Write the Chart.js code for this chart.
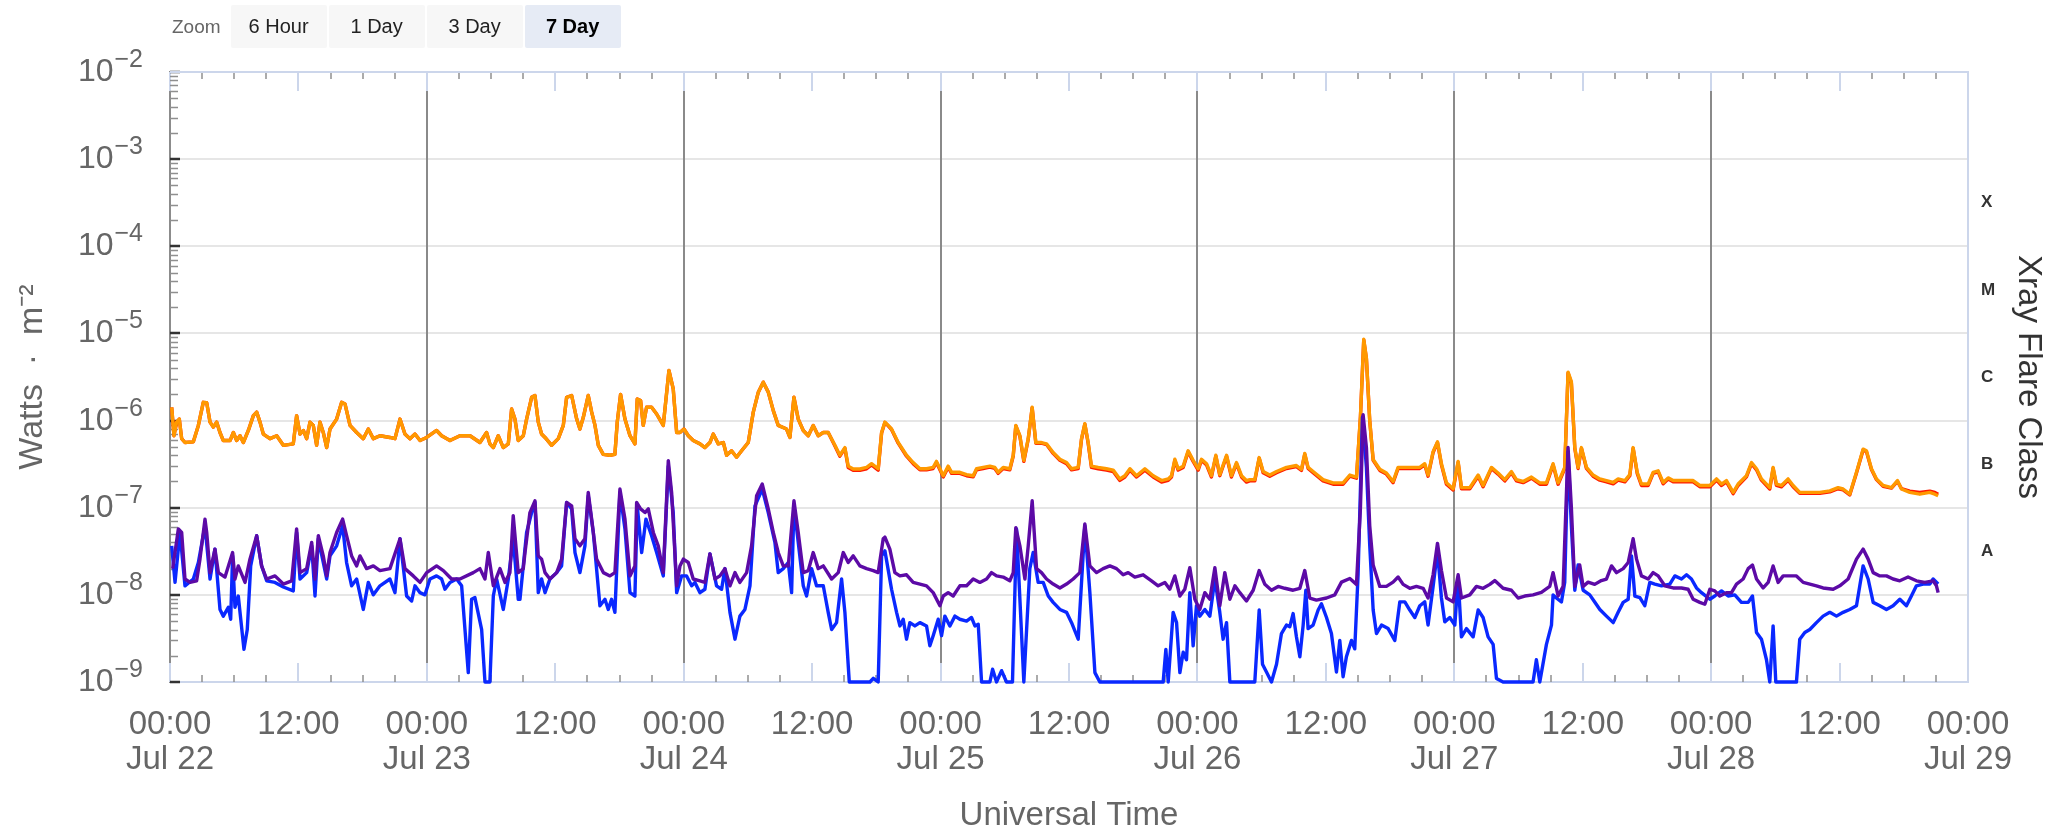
<!DOCTYPE html>
<html>
<head>
<meta charset="utf-8">
<title>GOES X-ray Flux</title>
<script src="https://cdn.jsdelivr.net/npm/chart.js@4.4.1/dist/chart.umd.min.js"></script>
<style>
  body { margin: 0; background: #fff; font-family: "Liberation Sans", Arial, sans-serif; }
  #wrap { position: relative; width: 2058px; height: 830px; }
  #chartXray { position: absolute; left: 0; top: 0; }
  .zoom-bar { position: absolute; left: 172px; top: 5px; height: 43px; display: flex; align-items: center; }
  .zoom-bar .lbl { color: #666; font-size: 19px; margin-right: 10px; }
  .zoom-bar .btn { width: 96px; height: 43px; margin-right: 2px; background: #f7f7f7; color: #222;
    font-size: 20px; display: flex; align-items: center; justify-content: center; border-radius: 2px; }
  .zoom-bar .btn.on { background: #e6ebf5; font-weight: bold; color: #000; }
</style>
</head>
<body>
<div id="wrap">
  <canvas id="chartXray" width="2058" height="830"></canvas>
  <div class="zoom-bar">
    <span class="lbl">Zoom</span>
    <div class="btn">6 Hour</div>
    <div class="btn">1 Day</div>
    <div class="btn">3 Day</div>
    <div class="btn on">7 Day</div>
  </div>
</div>
<script>
// hours since Jul 22 00:00 UTC, flux in W/m2

const dayLabels = ['Jul 22', 'Jul 23', 'Jul 24', 'Jul 25', 'Jul 26', 'Jul 27', 'Jul 28', 'Jul 29'];
const yTickValues = [1e-9, 1e-8, 1e-7, 1e-6, 1e-5, 1e-4, 1e-3, 1e-2];
const yTickExponents = ['−9', '−8', '−7', '−6', '−5', '−4', '−3', '−2'];
const flareClasses = ['X', 'M', 'C', 'B', 'A'];
const flareClassFloor = [1e-4, 1e-5, 1e-6, 1e-7, 1e-8];

// long channel, both satellites sampled at the same times
const longHours = [
  0.16, 0.37, 0.62, 0.87, 1.09, 1.40, 2.18, 2.65, 3.11, 3.43, 3.74, 4.05, 4.36, 4.67, 4.98, 5.61, 5.92, 6.23, 6.54, 6.85,
  7.32, 7.79, 8.10, 8.41, 8.72, 9.34, 9.97, 10.59, 11.52, 11.83, 12.15, 12.46, 12.77, 13.08, 13.39, 13.70, 14.01, 14.32, 14.64, 14.95,
  15.57, 16.04, 16.35, 16.82, 17.44, 18.06, 18.53, 19.00, 19.62, 20.55, 21.02, 21.49, 21.95, 22.42, 22.89, 23.36, 23.98, 24.91, 25.38, 26.16,
  27.09, 28.03, 28.96, 29.58, 29.89, 30.21, 30.67, 31.14, 31.61, 31.92, 32.23, 32.54, 33.01, 33.32, 33.79, 34.10, 34.41, 34.72, 35.04, 35.66,
  36.28, 36.75, 37.06, 37.53, 38.00, 38.30, 38.62, 39.08, 39.40, 39.71, 40.02, 40.48, 41.11, 41.57, 41.79, 42.10, 42.51, 42.98, 43.44, 43.66,
  43.97, 44.22, 44.53, 45.00, 45.47, 46.09, 46.62, 47.02, 47.34, 47.65, 48.02, 48.43, 48.89, 49.52, 49.98, 50.45, 50.76, 51.23, 51.70, 52.01,
  52.47, 52.94, 53.41, 54.03, 54.50, 54.97, 55.43, 55.90, 56.37, 56.83, 57.61, 57.92, 58.30, 58.70, 59.17, 59.64, 60.10, 60.57, 61.04, 61.50,
  62.13, 62.59, 63.06, 63.37, 63.84, 64.46, 65.09, 65.55, 66.17, 66.49, 66.80, 67.11, 67.42, 68.04, 68.82, 69.44, 70.07, 70.69, 71.31, 71.62,
  71.94, 72.25, 72.71, 73.03, 73.80, 74.43, 75.05, 75.36, 75.98, 76.61, 77.07, 77.38, 77.85, 78.47, 78.79, 79.03, 79.41, 79.78, 80.19, 80.56,
  80.90, 81.43, 81.90, 82.52, 83.15, 83.77, 84.24, 84.86, 85.17, 85.48, 85.79, 86.10, 86.73, 87.50, 88.13, 88.75, 89.22, 89.69, 90.31, 91.09,
  91.87, 92.65, 93.27, 93.58, 93.89, 94.20, 94.67, 95.13, 95.60, 96.07, 96.38, 96.85, 97.31, 97.72, 98.09, 98.72, 99.18, 99.65, 100.12, 100.58,
  100.89, 101.36, 101.77, 102.14, 102.76, 103.39, 104.32, 105.25, 105.72, 106.03, 106.34, 106.81, 107.74, 108.68, 109.61, 110.24, 110.86, 111.23, 111.54, 111.79,
  112.10, 112.42, 113.04, 113.66, 114.28, 114.75, 115.53, 116.15, 116.77, 117.24, 117.55, 118.02, 118.43, 118.80, 119.27, 119.89, 120.36, 120.67, 121.45, 122.23,
  122.69, 123.47, 124.09, 124.72, 125.34, 125.81, 126.43, 127.21, 127.99, 128.61, 129.23, 129.70, 130.32, 130.63, 130.94, 131.26, 131.57, 131.88, 132.35, 132.97,
  133.60, 134.22, 134.85, 135.31, 135.94, 136.40, 136.71, 137.09, 137.49, 138.12, 138.58, 139.05, 139.52, 139.98, 140.45, 141.39, 142.32, 142.94, 143.88, 144.50,
  144.97, 145.43, 146.06, 146.52, 147.30, 147.77, 148.24, 148.70, 149.48, 149.79, 150.10, 150.57, 151.19, 151.66, 152.28, 153.22, 154.15, 155.09, 155.86, 156.33,
  156.95, 157.58, 158.20, 158.51, 158.98, 159.45, 160.07, 160.85, 161.41, 161.78, 162.56, 163.49, 164.43, 164.90, 165.21
];

// long channel, secondary satellite (orange, drawn on top)
const longSecFlux = [
  1.42e-6, 6.7e-7, 9.6e-7, 1.04e-6, 6.2e-7, 5.6e-7, 5.7e-7, 8.8e-7, 1.62e-6, 1.6e-6, 9.6e-7, 8.4e-7, 9.6e-7, 7.3e-7, 5.9e-7, 5.9e-7, 7.3e-7, 5.9e-7, 6.7e-7, 5.6e-7,
  7.7e-7, 1.14e-6, 1.25e-6, 9.6e-7, 7.0e-7, 6.2e-7, 6.7e-7, 5.2e-7, 5.4e-7, 1.14e-6, 7.0e-7, 7.7e-7, 6.2e-7, 9.6e-7, 8.8e-7, 5.2e-7, 9.6e-7, 7.3e-7, 4.9e-7, 8.0e-7,
  1.04e-6, 1.62e-6, 1.55e-6, 8.8e-7, 7.3e-7, 6.2e-7, 8.0e-7, 6.2e-7, 6.7e-7, 6.4e-7, 6.2e-7, 1.04e-6, 7.0e-7, 6.2e-7, 7.0e-7, 5.9e-7, 6.4e-7, 7.7e-7, 6.7e-7, 5.9e-7,
  6.7e-7, 6.7e-7, 5.6e-7, 7.3e-7, 5.4e-7, 4.9e-7, 6.7e-7, 4.9e-7, 5.4e-7, 1.36e-6, 1.04e-6, 5.9e-7, 6.7e-7, 1.04e-6, 1.85e-6, 1.94e-6, 9.6e-7, 7.0e-7, 6.4e-7, 5.2e-7,
  6.2e-7, 8.8e-7, 1.85e-6, 1.94e-6, 1.04e-6, 8.0e-7, 1.09e-6, 1.94e-6, 1.25e-6, 8.8e-7, 5.2e-7, 4.1e-7, 4.0e-7, 4.1e-7, 9.6e-7, 2.0e-6, 1.04e-6, 6.7e-7, 5.4e-7, 1.77e-6,
  1.7e-6, 8.8e-7, 1.42e-6, 1.42e-6, 1.19e-6, 8.8e-7, 3.76e-6, 2.31e-6, 7.3e-7, 7.3e-7, 8.0e-7, 6.7e-7, 5.9e-7, 5.4e-7, 4.9e-7, 5.6e-7, 7.0e-7, 5.4e-7, 5.6e-7, 4.0e-7,
  4.5e-7, 3.8e-7, 4.5e-7, 5.6e-7, 1.25e-6, 2.12e-6, 2.76e-6, 2.12e-6, 1.3e-6, 8.8e-7, 8.0e-7, 6.4e-7, 1.85e-6, 1.04e-6, 7.7e-7, 6.7e-7, 8.8e-7, 6.7e-7, 7.3e-7, 7.3e-7,
  5.2e-7, 4.0e-7, 4.9e-7, 3.0e-7, 2.78e-7, 2.78e-7, 2.9e-7, 3.2e-7, 2.8e-7, 7.3e-7, 9.6e-7, 8.8e-7, 8.0e-7, 5.6e-7, 4.0e-7, 3.3e-7, 2.8e-7, 2.8e-7, 2.9e-7, 3.4e-7,
  2.8e-7, 2.33e-7, 3.0e-7, 2.55e-7, 2.55e-7, 2.4e-7, 2.33e-7, 2.8e-7, 2.9e-7, 3.0e-7, 2.9e-7, 2.55e-7, 2.9e-7, 2.8e-7, 4.0e-7, 8.8e-7, 6.7e-7, 3.5e-7, 6.2e-7, 1.42e-6,
  5.6e-7, 5.6e-7, 5.4e-7, 4.3e-7, 3.6e-7, 3.3e-7, 2.8e-7, 2.9e-7, 6.2e-7, 9.2e-7, 5.6e-7, 3.0e-7, 2.9e-7, 2.8e-7, 2.7e-7, 2.14e-7, 2.33e-7, 2.8e-7, 2.33e-7, 2.8e-7,
  2.33e-7, 2.05e-7, 2.14e-7, 2.33e-7, 3.6e-7, 2.8e-7, 3.0e-7, 4.5e-7, 3.5e-7, 2.8e-7, 3.6e-7, 3.2e-7, 2.33e-7, 4.0e-7, 2.4e-7, 4.0e-7, 2.33e-7, 3.3e-7, 2.33e-7, 2.05e-7,
  2.1e-7, 2.1e-7, 3.76e-7, 2.6e-7, 2.37e-7, 2.6e-7, 2.9e-7, 3.05e-7, 2.76e-7, 4.2e-7, 2.9e-7, 2.6e-7, 2.1e-7, 1.93e-7, 1.93e-7, 2.37e-7, 2.25e-7, 1.1e-6, 8.56e-6, 5.2e-6,
  1.0e-6, 3.57e-7, 2.76e-7, 2.5e-7, 2.0e-7, 2.9e-7, 2.9e-7, 2.9e-7, 2.9e-7, 3.2e-7, 2.37e-7, 4.4e-7, 5.7e-7, 3.2e-7, 1.93e-7, 1.65e-7, 3.4e-7, 1.7e-7, 1.7e-7, 2.37e-7,
  1.8e-7, 2.9e-7, 2.5e-7, 2.1e-7, 2.6e-7, 2.1e-7, 2.0e-7, 2.25e-7, 1.93e-7, 1.93e-7, 3.2e-7, 1.93e-7, 2.9e-7, 3.6e-6, 2.8e-6, 4.9e-7, 2.9e-7, 4.9e-7, 2.9e-7, 2.37e-7,
  2.14e-7, 2.05e-7, 1.95e-7, 2.14e-7, 2.05e-7, 2.4e-7, 4.9e-7, 2.55e-7, 1.87e-7, 1.87e-7, 2.55e-7, 2.65e-7, 1.95e-7, 2.2e-7, 2.05e-7, 2.05e-7, 2.05e-7, 1.8e-7, 1.8e-7, 2.14e-7,
  1.87e-7, 2.05e-7, 1.5e-7, 1.87e-7, 2.33e-7, 3.3e-7, 2.8e-7, 2.14e-7, 1.7e-7, 2.9e-7, 1.87e-7, 1.8e-7, 2.14e-7, 1.8e-7, 1.5e-7, 1.5e-7, 1.5e-7, 1.56e-7, 1.7e-7, 1.64e-7,
  1.43e-7, 2.55e-7, 4.7e-7, 4.5e-7, 2.8e-7, 2.14e-7, 1.8e-7, 1.7e-7, 2.05e-7, 1.64e-7, 1.5e-7, 1.43e-7, 1.5e-7, 1.43e-7, 1.37e-7
];

// long channel, primary satellite (red, mostly hidden under orange)
const longPriFlux = [
  1.42e-6, 6.7e-7, 9.6e-7, 1.04e-6, 6.2e-7, 5.6e-7, 5.7e-7, 8.8e-7, 1.62e-6, 1.6e-6, 9.6e-7, 8.4e-7, 9.6e-7, 7.3e-7, 5.9e-7, 5.9e-7, 7.3e-7, 5.9e-7, 6.7e-7, 5.6e-7,
  7.7e-7, 1.14e-6, 1.25e-6, 9.6e-7, 7.0e-7, 6.2e-7, 6.7e-7, 5.2e-7, 5.4e-7, 1.14e-6, 7.0e-7, 7.7e-7, 6.2e-7, 9.6e-7, 8.8e-7, 5.2e-7, 9.6e-7, 7.3e-7, 4.9e-7, 8.0e-7,
  1.04e-6, 1.62e-6, 1.55e-6, 8.8e-7, 7.3e-7, 6.2e-7, 8.0e-7, 6.2e-7, 6.7e-7, 6.4e-7, 6.2e-7, 1.04e-6, 7.0e-7, 6.2e-7, 7.0e-7, 5.9e-7, 6.4e-7, 7.7e-7, 6.7e-7, 5.9e-7,
  6.7e-7, 6.7e-7, 5.6e-7, 7.3e-7, 5.4e-7, 4.9e-7, 6.7e-7, 4.9e-7, 5.4e-7, 1.36e-6, 1.04e-6, 5.9e-7, 6.7e-7, 1.04e-6, 1.85e-6, 1.94e-6, 9.6e-7, 7.0e-7, 6.4e-7, 5.2e-7,
  6.2e-7, 8.8e-7, 1.85e-6, 1.94e-6, 1.04e-6, 8.0e-7, 1.09e-6, 1.94e-6, 1.25e-6, 8.8e-7, 5.2e-7, 4.1e-7, 4.0e-7, 4.1e-7, 9.6e-7, 2.0e-6, 1.04e-6, 6.7e-7, 5.4e-7, 1.77e-6,
  1.7e-6, 8.8e-7, 1.42e-6, 1.42e-6, 1.19e-6, 8.8e-7, 3.76e-6, 2.31e-6, 7.3e-7, 7.3e-7, 8.0e-7, 6.7e-7, 5.9e-7, 5.4e-7, 4.9e-7, 5.6e-7, 7.0e-7, 5.4e-7, 5.6e-7, 4.0e-7,
  4.5e-7, 3.8e-7, 4.5e-7, 5.6e-7, 1.25e-6, 2.12e-6, 2.76e-6, 2.12e-6, 1.3e-6, 8.8e-7, 8.0e-7, 6.4e-7, 1.85e-6, 1.04e-6, 7.7e-7, 6.7e-7, 8.8e-7, 6.7e-7, 7.3e-7, 7.3e-7,
  5.1e-7, 3.9e-7, 4.8e-7, 2.9e-7, 2.68e-7, 2.68e-7, 2.8e-7, 3.1e-7, 2.7e-7, 7.2e-7, 9.5e-7, 8.7e-7, 7.9e-7, 5.5e-7, 3.9e-7, 3.2e-7, 2.72e-7, 2.72e-7, 2.82e-7, 3.3e-7,
  2.72e-7, 2.26e-7, 2.92e-7, 2.48e-7, 2.48e-7, 2.33e-7, 2.26e-7, 2.72e-7, 2.82e-7, 2.92e-7, 2.82e-7, 2.48e-7, 2.82e-7, 2.72e-7, 3.9e-7, 8.7e-7, 6.6e-7, 3.4e-7, 6.1e-7, 1.4e-6,
  5.5e-7, 5.5e-7, 5.3e-7, 4.2e-7, 3.5e-7, 3.2e-7, 2.72e-7, 2.82e-7, 6.1e-7, 9.1e-7, 5.5e-7, 2.9e-7, 2.8e-7, 2.7e-7, 2.6e-7, 2.06e-7, 2.25e-7, 2.7e-7, 2.25e-7, 2.7e-7,
  2.25e-7, 1.97e-7, 2.06e-7, 2.25e-7, 3.5e-7, 2.7e-7, 2.9e-7, 4.4e-7, 3.4e-7, 2.7e-7, 3.5e-7, 3.1e-7, 2.25e-7, 3.9e-7, 2.33e-7, 3.9e-7, 2.25e-7, 3.2e-7, 2.25e-7, 1.97e-7,
  2.03e-7, 2.03e-7, 3.7e-7, 2.52e-7, 2.3e-7, 2.52e-7, 2.82e-7, 2.96e-7, 2.68e-7, 4.1e-7, 2.82e-7, 2.52e-7, 2.03e-7, 1.86e-7, 1.86e-7, 2.3e-7, 2.18e-7, 1.08e-6, 8.4e-6, 5.1e-6,
  9.9e-7, 3.5e-7, 2.68e-7, 2.43e-7, 1.94e-7, 2.82e-7, 2.82e-7, 2.82e-7, 2.82e-7, 3.1e-7, 2.3e-7, 4.3e-7, 5.6e-7, 3.1e-7, 1.86e-7, 1.6e-7, 3.3e-7, 1.65e-7, 1.65e-7, 2.3e-7,
  1.74e-7, 2.82e-7, 2.43e-7, 2.03e-7, 2.52e-7, 2.03e-7, 1.94e-7, 2.18e-7, 1.86e-7, 1.86e-7, 3.1e-7, 1.86e-7, 2.82e-7, 3.5e-6, 2.7e-6, 4.8e-7, 2.82e-7, 4.8e-7, 2.82e-7, 2.3e-7,
  2.07e-7, 1.98e-7, 1.88e-7, 2.07e-7, 1.98e-7, 2.33e-7, 4.8e-7, 2.48e-7, 1.8e-7, 1.8e-7, 2.48e-7, 2.58e-7, 1.88e-7, 2.13e-7, 1.98e-7, 1.98e-7, 1.98e-7, 1.74e-7, 1.74e-7, 2.07e-7,
  1.8e-7, 1.98e-7, 1.45e-7, 1.8e-7, 2.26e-7, 3.2e-7, 2.72e-7, 2.07e-7, 1.64e-7, 2.82e-7, 1.8e-7, 1.74e-7, 2.07e-7, 1.74e-7, 1.46e-7, 1.46e-7, 1.46e-7, 1.52e-7, 1.65e-7, 1.6e-7,
  1.4e-7, 2.5e-7, 4.6e-7, 4.4e-7, 2.75e-7, 2.1e-7, 1.76e-7, 1.68e-7, 2.0e-7, 1.66e-7, 1.55e-7, 1.5e-7, 1.55e-7, 1.5e-7, 1.43e-7
];

// short channel, secondary satellite (purple)
const shortSecHours = [
  0.25, 0.78, 1.09, 1.40, 1.87, 2.49, 2.80, 3.27, 3.43, 3.74, 4.20, 4.52, 5.14, 5.85, 6.07, 6.38, 7.01, 7.47, 8.10, 8.56,
  9.03, 9.81, 10.59, 11.37, 11.83, 12.15, 12.77, 13.24, 13.55, 13.86, 14.32, 14.64, 14.95, 15.57, 16.13, 16.50, 16.97, 17.44, 17.75, 18.37,
  19.00, 19.62, 20.55, 21.49, 21.95, 22.73, 23.36, 23.98, 24.91, 25.54, 26.31, 27.09, 28.34, 28.96, 29.43, 29.74, 30.21, 30.83, 31.30, 31.76,
  32.07, 32.54, 33.01, 33.17, 33.63, 34.10, 34.41, 34.72, 35.04, 35.50, 36.13, 36.59, 37.06, 37.53, 37.84, 38.30, 38.77, 39.08, 39.40, 39.86,
  40.49, 41.11, 41.57, 42.04, 42.51, 42.98, 43.44, 43.60, 43.97, 44.38, 44.69, 45.16, 45.62, 46.09, 46.56, 46.87, 47.34, 47.65, 47.96, 48.43,
  48.89, 49.52, 49.98, 50.45, 50.92, 51.38, 51.85, 52.32, 52.79, 53.25, 53.88, 54.34, 54.81, 55.34, 55.90, 56.37, 56.83, 57.30, 57.77, 58.30,
  58.70, 59.17, 59.64, 60.10, 60.57, 61.04, 61.82, 62.44, 62.91, 63.37, 63.84, 64.46, 65.09, 65.71, 66.17, 66.64, 66.80, 67.26, 67.73, 68.20,
  68.82, 69.44, 70.07, 70.69, 71.31, 71.94, 72.25, 72.71, 73.18, 73.80, 74.43, 75.05, 75.67, 76.30, 76.76, 77.23, 77.85, 78.47, 78.79, 79.03,
  79.41, 79.88, 80.19, 80.56, 80.97, 81.43, 81.90, 82.52, 83.15, 83.77, 84.39, 85.01, 85.48, 85.95, 86.57, 87.19, 87.82, 88.44, 89.06, 89.53,
  90.15, 90.93, 91.71, 92.33, 92.96, 93.42, 93.89, 94.36, 94.82, 95.29, 95.76, 96.22, 96.69, 97.16, 97.63, 98.09, 98.56, 99.03, 99.50, 99.96,
  100.58, 101.21, 101.77, 102.30, 102.92, 103.54, 104.16, 104.94, 105.57, 106.03, 106.50, 107.12, 108.06, 108.83, 109.46, 110.24, 110.86, 111.23, 111.48, 111.79,
  112.10, 112.42, 113.04, 113.66, 114.28, 114.75, 115.22, 115.84, 116.46, 117.09, 117.55, 118.02, 118.43, 118.80, 119.27, 119.89, 120.36, 120.67, 121.45, 122.07,
  122.69, 123.32, 123.78, 124.56, 125.34, 125.96, 126.59, 127.36, 128.14, 128.92, 129.23, 129.70, 130.17, 130.63, 130.94, 131.26, 131.72, 132.04, 132.50, 133.12,
  133.74, 134.22, 134.69, 135.16, 135.78, 136.25, 136.71, 137.03, 137.49, 138.12, 138.58, 139.05, 139.67, 140.45, 141.23, 141.85, 142.32, 142.94, 143.41, 143.88,
  144.34, 144.81, 145.43, 145.90, 146.37, 146.99, 147.46, 147.86, 148.24, 148.86, 149.33, 149.79, 150.26, 150.73, 151.35, 151.97, 152.60, 153.22, 153.84, 154.46,
  155.40, 156.02, 156.80, 157.58, 158.20, 158.67, 159.14, 159.76, 160.38, 161.00, 161.63, 162.40, 163.18, 163.96, 164.74, 165.05, 165.21
];
const shortSecFlux = [
  2.0e-8, 5.7e-8, 5.2e-8, 1.52e-8, 1.39e-8, 1.45e-8, 2.57e-8, 7.4e-8, 5.2e-8, 1.8e-8, 3.35e-8, 1.8e-8, 1.6e-8, 3.06e-8, 1.52e-8, 2.15e-8, 1.39e-8, 2.57e-8, 4.77e-8, 2.15e-8,
  1.52e-8, 1.65e-8, 1.33e-8, 1.45e-8, 5.7e-8, 1.8e-8, 2.0e-8, 4.0e-8, 1.52e-8, 4.77e-8, 2.8e-8, 1.65e-8, 3.06e-8, 5.2e-8, 7.4e-8, 4.77e-8, 2.8e-8, 2.15e-8, 2.8e-8, 2.0e-8,
  2.15e-8, 1.9e-8, 2.0e-8, 4.4e-8, 2.0e-8, 1.65e-8, 1.39e-8, 1.8e-8, 2.15e-8, 1.9e-8, 1.52e-8, 1.52e-8, 1.8e-8, 2.0e-8, 1.52e-8, 3.06e-8, 1.27e-8, 2.0e-8, 1.39e-8, 1.8e-8,
  8.1e-8, 1.8e-8, 2.0e-8, 3.06e-8, 8.8e-8, 1.2e-7, 2.8e-8, 2.57e-8, 1.8e-8, 1.52e-8, 1.8e-8, 2.57e-8, 1.15e-7, 1.05e-7, 4.4e-8, 3.65e-8, 4.4e-8, 1.5e-7, 7.4e-8, 2.57e-8,
  1.8e-8, 1.65e-8, 1.8e-8, 1.64e-7, 7.4e-8, 1.65e-8, 2.15e-8, 1.15e-7, 9.7e-8, 8.8e-8, 9.7e-8, 5.2e-8, 3.65e-8, 1.8e-8, 3.47e-7, 1.5e-7, 1.27e-8, 2.15e-8, 2.57e-8, 2.35e-8,
  1.52e-8, 1.45e-8, 1.39e-8, 2.95e-8, 1.52e-8, 1.65e-8, 2.0e-8, 1.27e-8, 1.8e-8, 1.39e-8, 1.8e-8, 3.65e-8, 1.37e-7, 1.87e-7, 9.7e-8, 5.2e-8, 3.06e-8, 2.15e-8, 2.15e-8, 1.2e-7,
  5.2e-8, 1.8e-8, 1.9e-8, 3.06e-8, 2.0e-8, 2.15e-8, 1.52e-8, 1.8e-8, 3.06e-8, 2.35e-8, 2.8e-8, 2.15e-8, 2.0e-8, 1.9e-8, 1.8e-8, 4.4e-8, 4.6e-8, 3.35e-8, 1.8e-8, 1.65e-8,
  1.7e-8, 1.39e-8, 1.33e-8, 1.27e-8, 1.06e-8, 7.5e-9, 9.7e-9, 1.06e-8, 9.7e-9, 1.27e-8, 1.27e-8, 1.52e-8, 1.39e-8, 1.52e-8, 1.8e-8, 1.65e-8, 1.6e-8, 1.45e-8, 1.8e-8, 5.9e-8,
  3.65e-8, 1.52e-8, 3.65e-8, 1.2e-7, 2.0e-8, 1.8e-8, 1.52e-8, 1.33e-8, 1.2e-8, 1.33e-8, 1.52e-8, 1.8e-8, 6.5e-8, 2.15e-8, 1.8e-8, 2.0e-8, 2.15e-8, 2.0e-8, 1.7e-8, 1.8e-8,
  1.6e-8, 1.7e-8, 1.45e-8, 1.27e-8, 1.39e-8, 1.16e-8, 1.65e-8, 9.7e-9, 1.16e-8, 2.05e-8, 8.9e-9, 6.8e-9, 1.06e-8, 8.9e-9, 2.05e-8, 7.5e-9, 1.8e-8, 8.9e-9, 1.27e-8, 1.06e-8,
  8.5e-9, 1.13e-8, 1.9e-8, 1.32e-8, 1.13e-8, 1.25e-8, 1.19e-8, 1.13e-8, 1.19e-8, 1.9e-8, 9.2e-9, 8.7e-9, 9.2e-9, 1.0e-8, 1.4e-8, 1.54e-8, 1.32e-8, 9.9e-8, 1.17e-6, 4.9e-7,
  6.2e-8, 2.2e-8, 1.25e-8, 1.25e-8, 1.4e-8, 1.6e-8, 1.32e-8, 1.19e-8, 1.25e-8, 1.19e-8, 9.2e-9, 1.7e-8, 3.9e-8, 1.9e-8, 9.2e-9, 8.3e-9, 1.7e-8, 9.2e-9, 1.0e-8, 1.25e-8,
  1.19e-8, 1.32e-8, 1.46e-8, 1.19e-8, 1.13e-8, 9.2e-9, 9.7e-9, 1.0e-8, 1.07e-8, 1.25e-8, 1.8e-8, 9.7e-9, 1.25e-8, 4.9e-7, 1.0e-7, 1.25e-8, 2.2e-8, 1.25e-8, 1.4e-8, 1.32e-8,
  1.46e-8, 1.52e-8, 2.15e-8, 1.8e-8, 2.0e-8, 2.35e-8, 4.4e-8, 2.57e-8, 1.65e-8, 1.52e-8, 1.8e-8, 1.65e-8, 1.27e-8, 1.2e-8, 1.2e-8, 1.16e-8, 8.9e-9, 8.2e-9, 7.8e-9, 1.16e-8,
  1.11e-8, 9.7e-9, 1.06e-8, 1.06e-8, 1.33e-8, 1.52e-8, 2.0e-8, 2.2e-8, 1.52e-8, 1.2e-8, 1.39e-8, 2.15e-8, 1.39e-8, 1.65e-8, 1.65e-8, 1.65e-8, 1.39e-8, 1.33e-8, 1.27e-8, 1.2e-8,
  1.16e-8, 1.27e-8, 1.52e-8, 2.57e-8, 3.35e-8, 2.57e-8, 1.8e-8, 1.65e-8, 1.65e-8, 1.52e-8, 1.45e-8, 1.6e-8, 1.45e-8, 1.39e-8, 1.45e-8, 1.27e-8, 1.06e-8
];

// short channel, primary satellite (blue)
const shortPriHours = [
  0.16, 0.47, 0.93, 1.40, 2.18, 2.65, 3.27, 3.74, 4.20, 4.67, 4.98, 5.45, 5.67, 5.85, 6.07, 6.38, 6.91, 7.22, 7.54, 8.10,
  8.56, 9.03, 9.81, 10.59, 11.52, 11.83, 12.15, 12.77, 13.24, 13.55, 13.86, 14.32, 14.64, 14.95, 15.57, 16.13, 16.50, 16.97, 17.44, 18.06,
  18.53, 19.00, 19.62, 20.55, 21.02, 21.49, 22.11, 22.58, 22.89, 23.36, 23.82, 24.29, 24.91, 25.38, 25.69, 26.16, 26.78, 27.25, 27.87, 28.18,
  28.49, 29.12, 29.43, 29.89, 30.21, 30.52, 31.14, 31.61, 32.07, 32.54, 32.70, 33.32, 33.79, 34.10, 34.41, 34.72, 35.04, 35.50, 36.13, 36.59,
  37.06, 37.53, 37.84, 38.30, 38.77, 39.08, 39.55, 40.17, 40.64, 40.95, 41.26, 41.57, 42.04, 42.51, 42.98, 43.44, 43.66, 44.07, 44.47, 45.00,
  45.47, 46.09, 46.56, 47.02, 47.34, 47.80, 48.27, 48.74, 49.05, 49.52, 49.98, 50.45, 51.07, 51.54, 51.85, 52.32, 52.79, 53.25, 53.72, 54.19,
  54.66, 55.34, 55.90, 56.52, 56.83, 57.30, 57.77, 58.08, 58.30, 58.70, 59.17, 59.48, 59.95, 60.41, 61.04, 61.50, 61.82, 62.28, 62.75, 63.06,
  63.47, 65.40, 65.71, 66.17, 66.49, 66.80, 67.42, 67.89, 68.20, 68.51, 68.82, 69.13, 69.60, 70.07, 70.69, 71.00, 71.31, 71.78, 72.09, 72.40,
  72.87, 73.34, 73.80, 74.43, 74.89, 75.21, 75.52, 75.83, 76.61, 76.86, 77.23, 77.70, 78.16, 78.72, 79.10, 79.78, 80.34, 80.65, 81.12, 81.59,
  82.06, 82.52, 83.15, 83.77, 84.24, 84.86, 85.48, 85.95, 86.42, 86.88, 92.80, 93.05, 93.27, 93.73, 94.05, 94.36, 94.67, 94.98, 95.29, 95.60,
  95.91, 96.22, 96.69, 97.16, 97.63, 98.09, 98.40, 98.72, 99.03, 101.36, 101.77, 102.08, 102.45, 102.92, 103.39, 103.85, 104.32, 104.63, 104.94, 105.25,
  105.57, 105.88, 106.13, 106.34, 106.81, 107.28, 107.59, 108.06, 108.52, 108.99, 109.30, 109.61, 109.92, 110.39, 110.70, 111.01, 111.42, 111.79, 112.10, 112.42,
  112.73, 113.20, 113.82, 114.44, 114.91, 115.38, 115.84, 116.31, 116.78, 117.24, 117.55, 118.02, 118.43, 118.80, 119.11, 119.58, 120.05, 120.36, 120.67, 121.14,
  121.76, 122.23, 122.69, 123.16, 123.63, 123.94, 124.56, 127.36, 127.67, 127.99, 128.61, 129.08, 129.23, 129.54, 130.01, 130.32, 130.63, 130.94, 131.26, 131.57,
  132.04, 132.66, 133.12, 133.60, 134.22, 134.85, 135.31, 135.78, 136.25, 136.56, 136.87, 137.34, 137.80, 138.27, 138.74, 139.36, 140.14, 140.61, 141.23, 141.70,
  142.16, 142.63, 143.10, 143.88, 144.34, 144.97, 145.59, 146.21, 146.83, 147.46, 147.86, 148.24, 148.70, 149.17, 149.48, 149.79, 150.04, 151.97, 152.28, 152.75,
  153.22, 153.84, 154.46, 155.09, 155.71, 156.33, 156.95, 157.58, 157.89, 158.20, 158.67, 159.14, 159.76, 160.38, 161.00, 161.63, 162.25, 162.71, 163.18, 163.80,
  164.43, 164.74, 165.21
];
const shortPriFlux = [
  3.65e-8, 1.39e-8, 5.2e-8, 1.27e-8, 1.52e-8, 2.35e-8, 6.2e-8, 1.52e-8, 3.35e-8, 6.8e-9, 5.7e-9, 7.2e-9, 5.25e-9, 2.8e-8, 7.2e-9, 9.7e-9, 2.37e-9, 4.0e-9, 2.15e-8, 4.77e-8,
  2.15e-8, 1.45e-8, 1.39e-8, 1.23e-8, 1.11e-8, 5.2e-8, 1.52e-8, 1.8e-8, 3.65e-8, 9.7e-9, 4.4e-8, 2.35e-8, 1.52e-8, 2.8e-8, 3.65e-8, 6.2e-8, 2.35e-8, 1.27e-8, 1.52e-8, 6.8e-9,
  1.39e-8, 1.0e-8, 1.27e-8, 1.52e-8, 1.06e-8, 4.4e-8, 9.7e-9, 8.5e-9, 1.27e-8, 1.06e-8, 1.0e-8, 1.52e-8, 1.65e-8, 1.52e-8, 1.16e-8, 1.39e-8, 1.52e-8, 1.27e-8, 1.28e-9, 8.9e-9,
  9.3e-9, 4.0e-9, 1.0e-9, 1.0e-9, 9.7e-9, 1.52e-8, 6.8e-9, 1.52e-8, 4.4e-8, 8.9e-9, 8.9e-9, 5.2e-8, 8.8e-8, 1.15e-7, 1.06e-8, 1.52e-8, 1.06e-8, 1.52e-8, 1.8e-8, 2.15e-8,
  1.15e-7, 9.7e-8, 3.06e-8, 1.8e-8, 3.65e-8, 1.37e-7, 5.2e-8, 7.5e-9, 8.9e-9, 6.8e-9, 8.9e-9, 6.3e-9, 1.5e-7, 5.7e-8, 1.06e-8, 9.7e-9, 1.05e-7, 3.06e-8, 7.4e-8, 4.77e-8,
  3.06e-8, 1.65e-8, 3.0e-7, 8.8e-8, 1.06e-8, 1.65e-8, 1.65e-8, 1.27e-8, 1.39e-8, 1.06e-8, 1.16e-8, 2.95e-8, 1.27e-8, 1.16e-8, 2.0e-8, 6.3e-9, 3.1e-9, 5.7e-9, 6.8e-9, 1.27e-8,
  1.05e-7, 1.64e-7, 8.8e-8, 4.0e-8, 1.8e-8, 2.0e-8, 2.35e-8, 1.06e-8, 1.05e-7, 4.0e-8, 1.27e-8, 9.7e-9, 2.0e-8, 1.27e-8, 1.27e-8, 6.3e-9, 4.0e-9, 4.8e-9, 1.52e-8, 6.3e-9,
  1.0e-9, 1.0e-9, 1.1e-9, 1.0e-9, 2.8e-8, 3.2e-8, 1.16e-8, 6.3e-9, 4.4e-9, 5.25e-9, 3.1e-9, 4.8e-9, 4.4e-9, 4.8e-9, 4.4e-9, 2.6e-9, 3.4e-9, 5.25e-9, 3.4e-9, 5.7e-9,
  4.4e-9, 5.7e-9, 5.25e-9, 5.0e-9, 5.5e-9, 4.4e-9, 4.6e-9, 1.0e-9, 1.0e-9, 1.4e-9, 1.0e-9, 1.35e-9, 1.0e-9, 1.0e-9, 5.7e-8, 1.0e-9, 2.0e-8, 3.06e-8, 1.39e-8, 1.39e-8,
  9.7e-9, 8.2e-9, 6.8e-9, 6.3e-9, 4.8e-9, 3.1e-9, 6.2e-8, 1.06e-8, 1.28e-9, 1.0e-9, 1.0e-9, 2.37e-9, 1.0e-9, 6.3e-9, 4.8e-9, 1.28e-9, 2.2e-9, 1.8e-9, 1.06e-8, 2.6e-9,
  7.5e-9, 5.7e-9, 6.8e-9, 5.7e-9, 1.52e-8, 6.3e-9, 3.1e-9, 4.8e-9, 1.0e-9, 1.0e-9, 6.7e-9, 1.6e-9, 1.3e-9, 1.0e-9, 1.6e-9, 3.6e-9, 4.5e-9, 4.3e-9, 6.1e-9, 3.3e-9,
  1.95e-9, 4.5e-9, 1.13e-8, 4.1e-9, 4.5e-9, 6.7e-9, 7.9e-9, 5.5e-9, 3.6e-9, 1.3e-9, 3.0e-9, 1.15e-9, 1.95e-9, 3.0e-9, 2.4e-9, 1.7e-8, 1.1e-6, 2.9e-7, 3.7e-8, 6.7e-9,
  3.6e-9, 4.5e-9, 4.1e-9, 3.0e-9, 8.3e-9, 8.3e-9, 6.7e-9, 5.5e-9, 7.5e-9, 8.3e-9, 4.5e-9, 1.25e-8, 3.2e-8, 9.2e-9, 4.9e-9, 5.5e-9, 4.5e-9, 1.54e-8, 3.3e-9, 4.1e-9,
  3.3e-9, 6.7e-9, 5.5e-9, 3.3e-9, 2.7e-9, 1.1e-9, 1.0e-9, 1.0e-9, 1.8e-9, 1.0e-9, 2.7e-9, 4.5e-9, 1.0e-8, 9.2e-9, 8.3e-9, 1.4e-8, 4.4e-7, 6.2e-8, 1.13e-8, 2.2e-8,
  1.13e-8, 1.0e-8, 8.3e-9, 6.8e-9, 5.7e-9, 4.8e-9, 6.3e-9, 8.2e-9, 8.9e-9, 2.8e-8, 9.7e-9, 9.3e-9, 7.5e-9, 1.39e-8, 1.33e-8, 1.27e-8, 1.33e-8, 1.65e-8, 1.52e-8, 1.7e-8,
  1.52e-8, 1.2e-8, 1.06e-8, 8.9e-9, 9.7e-9, 1.11e-8, 9.7e-9, 1.0e-8, 8.2e-9, 8.2e-9, 9.7e-9, 3.7e-9, 3.1e-9, 1.8e-9, 1.0e-9, 4.4e-9, 1.0e-9, 1.0e-9, 3.1e-9, 3.7e-9,
  4.0e-9, 4.8e-9, 5.7e-9, 6.3e-9, 5.7e-9, 6.3e-9, 6.8e-9, 7.5e-9, 1.27e-8, 2.15e-8, 1.52e-8, 8.2e-9, 7.5e-9, 6.8e-9, 7.5e-9, 8.9e-9, 7.5e-9, 9.7e-9, 1.27e-8, 1.33e-8,
  1.33e-8, 1.52e-8, 1.33e-8
];

const toPoints = (hours, flux) => hours.map((h, i) => ({ x: h, y: flux[i] }));

const fontFamily = '"Liberation Sans", Arial, sans-serif';
Chart.defaults.font.family = fontFamily;

// inward ticks, day lines, top frame and the 10^n labels, placed through the scales
const axisDecor = {
    id: 'axisDecor',
    beforeDatasetsDraw(chart) {
        const { ctx, chartArea: area, scales } = chart;
        const x = scales.x, y = scales.y;
        const seg = (x1, y1, x2, y2) => {
            ctx.beginPath();
            ctx.moveTo(x1, y1);
            ctx.lineTo(x2, y2);
            ctx.stroke();
        };
        ctx.save();

        // day separators
        ctx.strokeStyle = '#8a8a8a';
        ctx.lineWidth = 2;
        for (let h = 24; h < 168; h += 24) {
            const px = Math.round(x.getPixelForValue(h));
            seg(px, area.top + 19, px, area.bottom - 19);
        }

        // x ticks every 3 hours, top and bottom
        for (let h = 0; h <= 168; h += 3) {
            const px = Math.round(x.getPixelForValue(h));
            const major = h % 12 === 0;
            ctx.strokeStyle = major ? '#ccd6eb' : '#8f8f8f';
            ctx.lineWidth = major ? 2 : 1.5;
            const len = major ? 19 : 7;
            seg(px, area.top, px, area.top + len);
            seg(px, area.bottom, px, area.bottom - len);
        }

        // y minor ticks
        ctx.strokeStyle = '#8f8f8f';
        ctx.lineWidth = 1.5;
        for (let e = -9; e < -2; e++) {
            for (let m = 2; m <= 9; m++) {
                const py = Math.round(y.getPixelForValue(m * Math.pow(10, e))) + 0.5;
                seg(area.left, py, area.left + 8, py);
            }
        }
        // y major ticks
        ctx.strokeStyle = '#333';
        ctx.lineWidth = 2.5;
        yTickValues.forEach(v => {
            const py = Math.round(y.getPixelForValue(v));
            seg(area.left, py, area.left + 10, py);
        });

        // top frame
        ctx.strokeStyle = '#ccd6eb';
        ctx.lineWidth = 2;
        seg(area.left, area.top, area.right, area.top);

        // y labels: 10 with a raised exponent
        ctx.fillStyle = '#666';
        ctx.textAlign = 'right';
        ctx.textBaseline = 'alphabetic';
        yTickValues.forEach((v, i) => {
            const py = y.getPixelForValue(v);
            const right = area.left - 27;
            ctx.font = '25px ' + fontFamily;
            ctx.fillText(yTickExponents[i], right, py - 5);
            const w = ctx.measureText(yTickExponents[i]).width;
            ctx.font = '32px ' + fontFamily;
            ctx.fillText('10', right - w - 1, py + 9);
        });
        ctx.restore();
    }
};

const lineStyle = {
    borderWidth: 3.4,
    pointRadius: 0,
    tension: 0,
    fill: false,
    borderJoinStyle: 'round',
    clip: { left: 0, top: 0, right: 0, bottom: 3 }
};

const data = {
    datasets: [
        { label: 'Short secondary', data: toPoints(shortSecHours, shortSecFlux), borderColor: '#5c0aa6', ...lineStyle },
        { label: 'Short primary', data: toPoints(shortPriHours, shortPriFlux), borderColor: '#0a28ff', ...lineStyle },
        { label: 'Long secondary', data: toPoints(longHours, longSecFlux), borderColor: '#ff9900', ...lineStyle },
        { label: 'Long primary', data: toPoints(longHours, longPriFlux), borderColor: '#ff1a00', ...lineStyle }
    ]
};

const config = {
    type: 'line',
    data,
    options: {
        responsive: false,
        devicePixelRatio: 1,
        animation: false,
        parsing: false,
        events: [],
        layout: { padding: { top: 72, left: 0, right: 0, bottom: 0 } },
        plugins: { legend: { display: false }, tooltip: { enabled: false } },
        scales: {
            x: {
                type: 'linear',
                min: 0,
                max: 168,
                afterFit: s => { s.height = 148; },
                grid: { display: false },
                border: { display: true, color: '#ccd6eb', width: 2 },
                ticks: {
                    stepSize: 12,
                    autoSkip: false,
                    maxRotation: 0,
                    padding: 17,
                    color: '#666',
                    font: { size: 33, lineHeight: 1.06 },
                    callback: v => (v % 24 === 0 ? ['00:00', dayLabels[v / 24]] : '12:00')
                },
                title: {
                    display: true,
                    text: 'Universal Time',
                    color: '#666',
                    font: { size: 33, lineHeight: 0.85 },
                    padding: { top: 0, bottom: 0 }
                }
            },
            y: {
                type: 'logarithmic',
                position: 'left',
                min: 1e-9,
                max: 1e-2,
                afterFit: s => { s.width = 170; },
                afterBuildTicks: s => { s.ticks = yTickValues.map(v => ({ value: v })); },
                grid: { color: '#e6e6e6', lineWidth: 2, drawTicks: false },
                border: { display: true, color: '#8c8c8c', width: 2 },
                ticks: { display: false },
                title: {
                    display: true,
                    text: 'Watts \u00a0·\u00a0 m⁻²',
                    color: '#666',
                    font: { size: 34, lineHeight: 1.2 },
                    padding: { top: 12, bottom: 0 }
                }
            },
            y2: {
                type: 'logarithmic',
                position: 'right',
                min: 1e-9,
                max: 1e-2,
                afterFit: s => { s.width = 90; },
                afterBuildTicks: s => { s.ticks = flareClassFloor.map(v => ({ value: v * Math.sqrt(10) })); },
                grid: { display: false, drawTicks: false },
                border: { display: true, color: '#ccd6eb', width: 2 },
                ticks: {
                    padding: 13,
                    color: '#333',
                    font: { size: 17, weight: 'bold' },
                    callback: (v, i) => flareClasses[i]
                },
                title: {
                    display: true,
                    text: 'Xray Flare Class',
                    color: '#333',
                    font: { size: 33, lineHeight: 1.2 },
                    padding: { top: 10, bottom: 0 }
                }
            }
        }
    },
    plugins: [axisDecor]
};

var chartXray = new Chart(
    document.getElementById('chartXray'),
    config
);
</script>
</body>
</html>
